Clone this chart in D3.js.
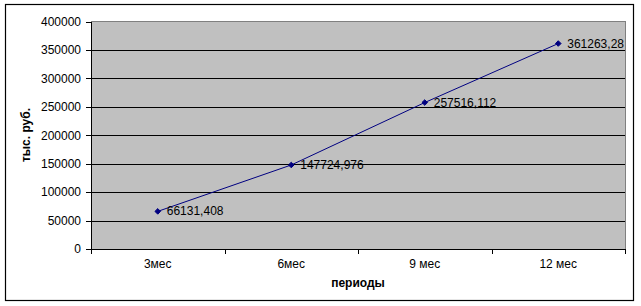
<!DOCTYPE html>
<meta charset="utf-8">
<style>
body { margin: 0; background: #fff; }
text { font-family: Arial, "Liberation Sans", sans-serif; font-size: 12px; fill: #000; }
.axis path, .axis line { stroke: #000; shape-rendering: crispEdges; }
.title { font-weight: bold; }
</style>
<body>
<script src="https://cdn.jsdelivr.net/npm/d3@7"></script>
<script>

var periods = ["3мес", "6мес", "9 мес", "12 мес"];
var values = [66131.408, 147724.976, 257516.112, 361263.28];
var valueLabels = ["66131,408", "147724,976", "257516,112", "361263,28"];
var yTicks = [0, 50000, 100000, 150000, 200000, 250000, 300000, 350000, 400000];

var width = 641, height = 306;
var plot = {left: 91, top: 21.5, right: 625, bottom: 249};

var svg = d3.select("body").append("svg")
    .attr("width", width)
    .attr("height", height);

// outer frame
svg.append("rect")
    .attr("x", 5.5).attr("y", 4.5)
    .attr("width", 628).attr("height", 296)
    .attr("fill", "#fff")
    .attr("stroke", "#000")
    .attr("stroke-width", 1.2);

var x = d3.scaleBand()
    .domain(periods)
    .range([plot.left, plot.right]);

var y = d3.scaleLinear()
    .domain([0, 400000])
    .range([plot.bottom, plot.top]);

// plot background
svg.append("rect")
    .attr("x", plot.left).attr("y", plot.top)
    .attr("width", plot.right - plot.left)
    .attr("height", plot.bottom - plot.top)
    .attr("fill", "#c0c0c0")
    .attr("stroke", "#808080")
    .attr("shape-rendering", "crispEdges");

// gridlines
svg.append("g")
    .selectAll("line")
    .data(yTicks.slice(1, -1))
    .enter().append("line")
    .attr("x1", plot.left).attr("x2", plot.right)
    .attr("y1", function(d) { return Math.round(y(d)) + 0.5; })
    .attr("y2", function(d) { return Math.round(y(d)) + 0.5; })
    .attr("stroke", "#000")
    .attr("shape-rendering", "crispEdges");

var yAxis = d3.axisLeft(y)
    .tickValues(yTicks)
    .tickSize(5)
    .tickPadding(5)
    .tickFormat(d3.format("d"));

svg.append("g")
    .attr("class", "axis")
    .attr("transform", "translate(" + plot.left + ",0)")
    .call(yAxis)
    .call(function(g) { g.selectAll("text").style("font-size", "12px"); });

// x axis: ticks on band boundaries
var xg = svg.append("g").attr("class", "axis");
xg.append("line")
    .attr("x1", plot.left).attr("x2", plot.right)
    .attr("y1", plot.bottom + 0.5).attr("y2", plot.bottom + 0.5)
    .attr("stroke", "#000");
var bounds = periods.map(function(p) { return x(p); }).concat([plot.right]);
xg.selectAll(".tk")
    .data(bounds)
    .enter().append("line")
    .attr("x1", function(d) { return Math.round(d) + 0.5; })
    .attr("x2", function(d) { return Math.round(d) + 0.5; })
    .attr("y1", plot.bottom).attr("y2", plot.bottom + 5)
    .attr("stroke", "#000");
xg.selectAll(".lbl")
    .data(periods)
    .enter().append("text")
    .attr("x", function(d) { return x(d) + x.bandwidth() / 2; })
    .attr("y", 268)
    .attr("text-anchor", "middle")
    .text(function(d) { return d; });

// axis titles
svg.append("text")
    .attr("class", "title")
    .attr("x", 358).attr("y", 287)
    .attr("text-anchor", "middle")
    .text("периоды");

svg.append("text")
    .attr("class", "title")
    .attr("transform", "translate(30,135) rotate(-90)")
    .attr("text-anchor", "middle")
    .text("тыс. руб.");

// series line
var line = d3.line()
    .x(function(d, i) { return x(periods[i]) + x.bandwidth() / 2; })
    .y(function(d) { return y(d); });

svg.append("path")
    .datum(values)
    .attr("d", line)
    .attr("fill", "none")
    .attr("stroke", "#000080")
    .attr("stroke-width", 1);

svg.append("g")
    .selectAll("path")
    .data(values)
    .enter().append("path")
    .attr("d", d3.symbol().type(d3.symbolDiamond2).size(20))
    .attr("transform", function(d, i) {
      return "translate(" + (x(periods[i]) + x.bandwidth() / 2) + "," + y(d) + ")";
    })
    .attr("fill", "#000080")
    .attr("stroke", "#000080");

svg.append("g")
    .selectAll("text")
    .data(values)
    .enter().append("text")
    .attr("x", function(d, i) { return x(periods[i]) + x.bandwidth() / 2 + 9; })
    .attr("y", function(d) { return y(d) + 4; })
    .text(function(d, i) { return valueLabels[i]; });

</script>
